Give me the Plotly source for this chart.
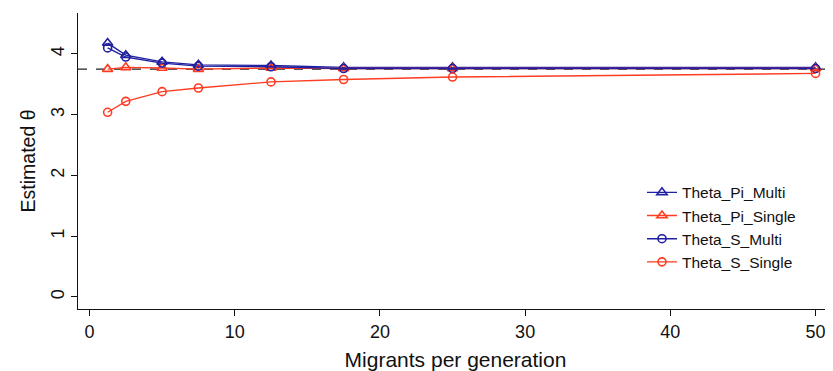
import plotly.graph_objects as go

migrants = [1.25, 2.5, 5, 7.5, 12.5, 17.5, 25, 50]
theta_pi_multi = [4.18, 3.98, 3.87, 3.82, 3.81, 3.78, 3.78, 3.78]
theta_pi_single = [3.75, 3.78, 3.77, 3.75, 3.77, 3.76, 3.76, 3.76]
theta_s_multi = [4.10, 3.95, 3.85, 3.80, 3.79, 3.76, 3.76, 3.76]
theta_s_single = [3.04, 3.22, 3.38, 3.44, 3.54, 3.58, 3.62, 3.68]
true_theta = 3.75

x_ticks = [0, 10, 20, 30, 40, 50]
y_ticks = [0, 1, 2, 3, 4]

BLUE = "#2020a0"
RED = "#ff3b22"
FONT = "Liberation Sans"

fig = go.Figure()

series = [
    ("Theta_Pi_Multi", theta_pi_multi, BLUE, "triangle-up-open", 9),
    ("Theta_Pi_Single", theta_pi_single, RED, "triangle-up-open", 9),
    ("Theta_S_Multi", theta_s_multi, BLUE, "circle-open", 8),
    ("Theta_S_Single", theta_s_single, RED, "circle-open", 8),
]

for name, vals, col, sym, sz in series:
    fig.add_trace(go.Scatter(
        x=migrants, y=vals, name=name, mode="lines+markers",
        line=dict(color=col, width=1.4),
        marker=dict(symbol=sym, size=sz, color=col, line=dict(width=1.6, color=col)),
    ))

fig.add_hline(y=true_theta, line=dict(color="#222222", width=1.3, dash="dash"), layer="below")

# The page body has an 8px default margin, so the figure is sized to fit.
fig.update_layout(
    width=825, height=363,
    margin=dict(l=70, r=0, t=5, b=62),
    paper_bgcolor="white", plot_bgcolor="white",
    font=dict(family=FONT, size=17, color="#111111"),
    showlegend=True,
    legend=dict(
        x=0.747, y=0.45, xanchor="left", yanchor="top",
        bgcolor="rgba(0,0,0,0)", font=dict(size=15.5, family=FONT),
        tracegroupgap=0, itemwidth=30,
    ),
    xaxis=dict(
        range=[-0.79, 51.2], tickvals=x_ticks, ticks="outside", ticklen=6,
        tickcolor="#111111", showline=True, linecolor="#111111", linewidth=1.2,
        showgrid=False, zeroline=False, automargin=False,
        title=dict(text="Migrants per generation", font=dict(size=21), standoff=11),
        tickfont=dict(size=18),
    ),
    yaxis=dict(
        range=[-0.2, 4.675], tickvals=y_ticks, ticks="outside", ticklen=6,
        tickcolor="#111111", showline=True, linecolor="#111111", linewidth=1.2,
        showgrid=False, zeroline=False, tickangle=-90, automargin=False,
        title=dict(text="Estimated θ", font=dict(size=19.5), standoff=6),
        tickfont=dict(size=18),
    ),
)

fig.write_html("out.html")
